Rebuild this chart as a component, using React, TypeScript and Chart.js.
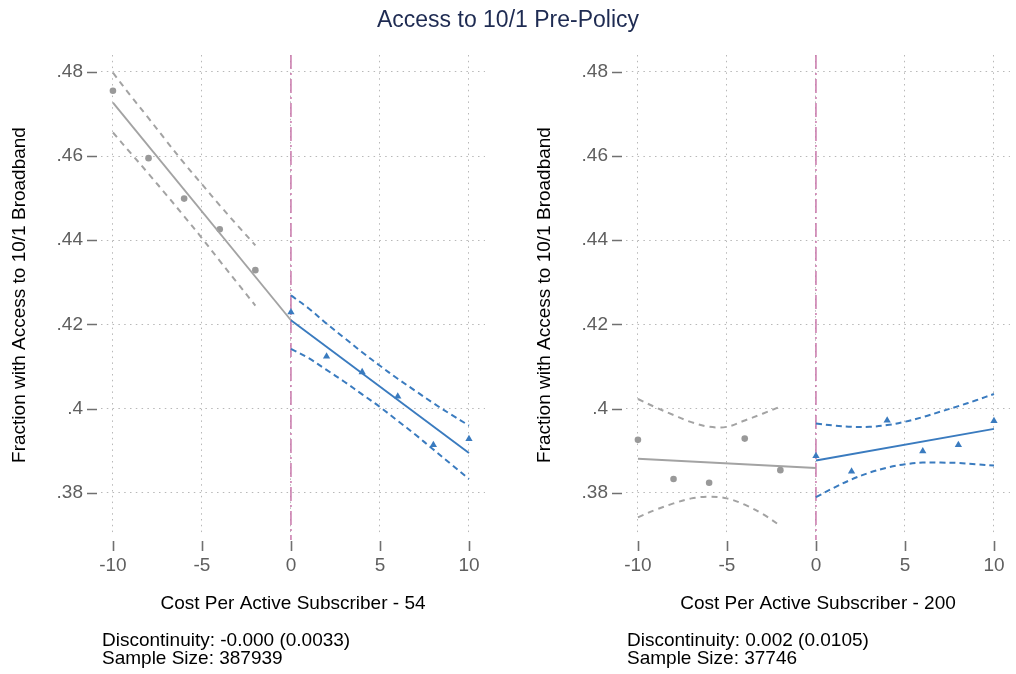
import React, { useEffect, useRef } from "react";
import { Chart, registerables } from "chart.js";

Chart.register(...registerables);

const FONT = "'Liberation Sans', Arial, Helvetica, sans-serif";

const TITLE = "Access to 10/1 Pre-Policy";
const Y_TITLE = "Fraction with Access to 10/1 Broadband";
const X_TICKS = [-10, -5, 0, 5, 10];
const Y_TICKS = [0.38, 0.4, 0.42, 0.44, 0.46, 0.48];
const Y_TICK_LABELS = [".38", ".4", ".42", ".44", ".46", ".48"];
const CUTOFF = 0;

const BIN_LEFT_X = [-10, -8, -6, -4, -2];
const BIN_RIGHT_X = [0, 2, 4, 6, 8, 10];
const FIT_LEFT_X = [-10, 0];
const FIT_RIGHT_X = [0, 10];
const CI_LEFT_X = [-10, -9, -8, -7, -6, -5, -4, -3, -2];
const CI_RIGHT_X = [0, 1, 2, 3, 4, 5, 6, 7, 8, 9, 10];

// Panel 1 (cost - 54)
const P1_X_TITLE = "Cost Per Active Subscriber - 54";
const P1_NOTE = ["Discontinuity: -0.000 (0.0033)", "Sample Size: 387939"];
const P1_BINS_LEFT = [0.4755, 0.4595, 0.4499, 0.4426, 0.4329];
const P1_BINS_RIGHT = [0.4229, 0.4124, 0.4087, 0.4029, 0.3914, 0.3928];
const P1_FIT_LEFT = [0.4727, 0.421];
const P1_FIT_RIGHT = [0.421, 0.3895];
const P1_CI_LEFT_UP = [0.4798, 0.4743, 0.469, 0.4636, 0.4583, 0.4533, 0.4483, 0.4435, 0.4388];
const P1_CI_LEFT_LO = [0.4656, 0.4607, 0.4558, 0.4508, 0.4457, 0.4405, 0.4351, 0.4298, 0.4245];
const P1_CI_RIGHT_UP = [0.4269, 0.4238, 0.4202, 0.4168, 0.4134, 0.4102, 0.4071, 0.4042, 0.4013, 0.3986, 0.396];
const P1_CI_RIGHT_LO = [0.4142, 0.412, 0.4092, 0.4064, 0.4034, 0.4004, 0.3971, 0.3938, 0.3903, 0.3868, 0.3833];

// Panel 2 (cost - 200)
const P2_X_TITLE = "Cost Per Active Subscriber - 200";
const P2_NOTE = ["Discontinuity: 0.002 (0.0105)", "Sample Size: 37746"];
const P2_BINS_LEFT = [0.3926, 0.3833, 0.3824, 0.3929, 0.3854];
const P2_BINS_RIGHT = [0.3888, 0.3851, 0.3972, 0.3899, 0.3914, 0.3971];
const P2_FIT_LEFT = [0.3881, 0.3859];
const P2_FIT_RIGHT = [0.3877, 0.3952];
const P2_CI_LEFT_UP = [0.4023, 0.4003, 0.3985, 0.3968, 0.3957, 0.3957, 0.3972, 0.3988, 0.4005];
const P2_CI_LEFT_LO = [0.3742, 0.376, 0.3775, 0.3787, 0.3791, 0.3787, 0.3772, 0.375, 0.3722];
const P2_CI_RIGHT_UP = [0.3965, 0.396, 0.3957, 0.3957, 0.3961, 0.3969, 0.398, 0.3993, 0.4006, 0.402, 0.4035];
const P2_CI_RIGHT_LO = [0.379, 0.3812, 0.3832, 0.3848, 0.386, 0.3868, 0.3872, 0.3872, 0.3871, 0.3868, 0.3865];

const GRAY = "#a3a3a3";
const BLUE = "#3a7bbf";
const CUTOFF_COLOR = "#c978ab";
const TICK_COLOR = "#5f5f5f";

const zip = (xs: number[], ys: number[]) => xs.map((x, i) => ({ x, y: ys[i] }));

const decorPlugin = {
  id: "decor",
  beforeDatasetsDraw(chart: any) {
    const { ctx, chartArea, scales } = chart;
    const px = scales.x.getPixelForValue(CUTOFF);
    ctx.save();
    ctx.strokeStyle = CUTOFF_COLOR;
    ctx.lineWidth = 1.5;
    ctx.setLineDash([14, 4, 2, 4]);
    ctx.beginPath();
    ctx.moveTo(px, chartArea.top);
    ctx.lineTo(px, chartArea.bottom + 5);
    ctx.stroke();
    ctx.restore();
  },
  afterDraw(chart: any) {
    const { ctx, chartArea, scales } = chart;
    ctx.save();
    ctx.strokeStyle = "#707070";
    ctx.lineWidth = 1.6;
    ctx.setLineDash([]);
    ctx.beginPath();
    X_TICKS.forEach((v) => {
      const p = Math.round(scales.x.getPixelForValue(v)) + 0.5;
      ctx.moveTo(p, chartArea.bottom + 6);
      ctx.lineTo(p, chartArea.bottom + 16);
    });
    Y_TICKS.forEach((v) => {
      const p = Math.round(scales.y.getPixelForValue(v)) + 0.5;
      ctx.moveTo(chartArea.left - 14, p);
      ctx.lineTo(chartArea.left - 4, p);
    });
    ctx.stroke();
    ctx.restore();
  },
};

type PanelProps = {
  left: number;
  xTitle: string;
  note: string[];
  binsL: number[];
  binsR: number[];
  fitL: number[];
  fitR: number[];
  ciLU: number[];
  ciLL: number[];
  ciRU: number[];
  ciRL: number[];
};

function Panel(p: PanelProps) {
  const ref = useRef<HTMLCanvasElement | null>(null);
  useEffect(() => {
    if (!ref.current) return;
    const dashed = (data: any, color: string, dash: number[]) => ({
      data,
      showLine: true,
      borderColor: color,
      borderWidth: 2,
      borderDash: dash,
      pointRadius: 0,
      tension: 0.35,
      fill: false,
    });
    const solid = (data: any, color: string) => ({
      data,
      showLine: true,
      borderColor: color,
      borderWidth: 1.9,
      pointRadius: 0,
      fill: false,
    });
    const chart = new Chart(ref.current, {
      type: "scatter",
      data: {
        datasets: [
          dashed(zip(CI_LEFT_X, p.ciLU), GRAY, [6, 5]),
          dashed(zip(CI_LEFT_X, p.ciLL), GRAY, [6, 5]),
          dashed(zip(CI_RIGHT_X, p.ciRU), BLUE, [6, 4]),
          dashed(zip(CI_RIGHT_X, p.ciRL), BLUE, [6, 4]),
          solid(zip(FIT_LEFT_X, p.fitL), GRAY),
          solid(zip(FIT_RIGHT_X, p.fitR), BLUE),
          {
            data: zip(BIN_LEFT_X, p.binsL),
            pointStyle: "circle",
            pointRadius: 3.3,
            backgroundColor: "#999999",
            borderWidth: 0,
            showLine: false,
          },
          {
            data: zip(BIN_RIGHT_X, p.binsR),
            pointStyle: "triangle",
            pointRadius: 4.2,
            backgroundColor: BLUE,
            borderColor: BLUE,
            borderWidth: 0,
            showLine: false,
          },
        ] as any,
      },
      options: {
        responsive: false,
        animation: false,
        events: [],
        layout: { padding: { top: 55, right: 6, left: 0, bottom: 0 } },
        plugins: { legend: { display: false }, tooltip: { enabled: false }, title: { display: false } },
        scales: {
          x: {
            type: "linear",
            min: -10.67,
            max: 10.9,
            afterBuildTicks: (s: any) => {
              s.ticks = X_TICKS.map((v) => ({ value: v }));
            },
            afterFit: (s: any) => {
              s.height = 139;
              s.paddingLeft = 0;
              s.paddingRight = 0;
            },
            ticks: {
              autoSkip: false,
              maxRotation: 0,
              padding: 19,
              color: TICK_COLOR,
              font: { family: FONT, size: 19 },
              callback: (v: any) => String(v),
            },
            grid: { color: "#b8b8b8", lineWidth: 1, drawTicks: false },
            border: { display: false, dash: [1.5, 4.3] },
            title: {
              display: true,
              text: p.xTitle,
              color: "#000",
              font: { family: FONT, size: 19 },
              padding: { top: 0, bottom: 59 },
            },
          },
          y: {
            type: "linear",
            min: 0.37,
            max: 0.484,
            afterBuildTicks: (s: any) => {
              s.ticks = Y_TICKS.map((v) => ({ value: v }));
            },
            afterFit: (s: any) => {
              s.width = 101;
              s.paddingTop = 0;
              s.paddingBottom = 0;
            },
            ticks: {
              autoSkip: false,
              padding: 18,
              color: TICK_COLOR,
              font: { family: FONT, size: 19 },
              callback: (_v: any, i: number) => Y_TICK_LABELS[i],
            },
            grid: { color: "#b8b8b8", lineWidth: 1, drawTicks: false },
            border: { display: false, dash: [1.5, 4.3] },
            title: {
              display: true,
              text: Y_TITLE,
              color: "#000",
              font: { family: FONT, size: 19 },
              padding: { top: 8, bottom: 0 },
            },
          },
        },
      } as any,
      plugins: [decorPlugin],
    });
    return () => chart.destroy();
  }, []);
  return (
    <>
      <canvas
        ref={ref}
        width={491}
        height={674}
        style={{ position: "absolute", left: p.left, top: 0, width: 491, height: 674 }}
      />
      <div
        style={{
          position: "absolute",
          left: p.left + 102,
          top: 631,
          fontFamily: FONT,
          fontSize: 19,
          lineHeight: "18px",
          color: "#000",
          whiteSpace: "nowrap",
        }}
      >
        {p.note.map((t) => (
          <div key={t}>{t}</div>
        ))}
      </div>
    </>
  );
}

export default function App() {
  return (
    <div
      style={{
        position: "absolute",
        left: 0,
        top: 0,
        width: 1016,
        height: 674,
        background: "#fff",
        overflow: "hidden",
      }}
    >
      <Panel
        left={0}
        xTitle={P1_X_TITLE}
        note={P1_NOTE}
        binsL={P1_BINS_LEFT}
        binsR={P1_BINS_RIGHT}
        fitL={P1_FIT_LEFT}
        fitR={P1_FIT_RIGHT}
        ciLU={P1_CI_LEFT_UP}
        ciLL={P1_CI_LEFT_LO}
        ciRU={P1_CI_RIGHT_UP}
        ciRL={P1_CI_RIGHT_LO}
      />
      <Panel
        left={525}
        xTitle={P2_X_TITLE}
        note={P2_NOTE}
        binsL={P2_BINS_LEFT}
        binsR={P2_BINS_RIGHT}
        fitL={P2_FIT_LEFT}
        fitR={P2_FIT_RIGHT}
        ciLU={P2_CI_LEFT_UP}
        ciLL={P2_CI_LEFT_LO}
        ciRU={P2_CI_RIGHT_UP}
        ciRL={P2_CI_RIGHT_LO}
      />
      <div
        style={{
          position: "absolute",
          left: 0,
          top: 0,
          width: 1016,
          textAlign: "center",
          fontFamily: FONT,
          fontSize: 23,
          lineHeight: "38px",
          color: "#1e2b52",
        }}
      >
        {TITLE}
      </div>
    </div>
  );
}
